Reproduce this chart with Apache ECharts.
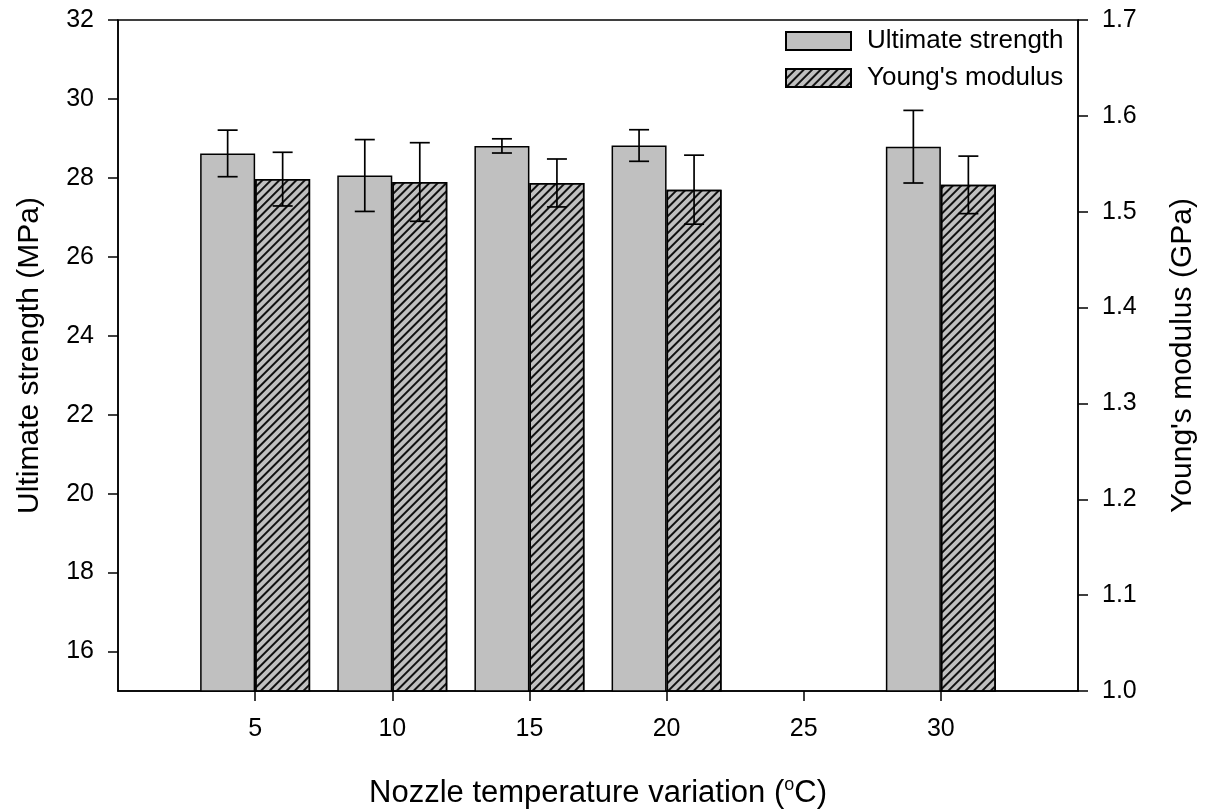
<!DOCTYPE html>
<html>
<head>
<meta charset="utf-8">
<title>Nozzle temperature variation</title>
<script src="https://cdn.jsdelivr.net/npm/echarts@6/dist/echarts.min.js"></script>
<style>
  html, body { margin: 0; padding: 0; background: #fff; }
  #chart { width: 1205px; height: 809px; }
</style>
</head>
<body>
<div id="chart"></div>
<script>
  /* ---------- data ---------- */
  const temps = [5, 10, 15, 20, 30];
  const strength = [28.62, 28.06, 28.81, 28.82, 28.79];      // MPa
  const strengthErr = [0.59, 0.91, 0.18, 0.40, 0.92];
  const modulus = [1.534, 1.531, 1.530, 1.523, 1.528];       // GPa
  const modulusErr = [0.028, 0.041, 0.025, 0.036, 0.030];
  const xTicks = [5, 10, 15, 20, 25, 30];
  const leftTicks = [16, 18, 20, 22, 24, 26, 28, 30, 32];

  const FONT = 'Liberation Sans, Arial, sans-serif';
  const BAR_W = 55;

  const chart = echarts.init(document.getElementById('chart'), null, { renderer: 'canvas' });

  // error bars drawn at the centre of each bar (shifted by half a bar width)
  function errorBars(shift) {
    return function (params, api) {
      const x = api.value(0);
      const lo = api.coord([x, api.value(1)]);
      const hi = api.coord([x, api.value(2)]);
      const cx = lo[0] + shift;
      const cap = 10;
      const style = { stroke: '#000', lineWidth: 1.7 };
      return {
        type: 'group',
        children: [
          { type: 'line', shape: { x1: cx, y1: lo[1], x2: cx, y2: hi[1] }, style: style },
          { type: 'line', shape: { x1: cx - cap, y1: lo[1], x2: cx + cap, y2: lo[1] }, style: style },
          { type: 'line', shape: { x1: cx - cap, y1: hi[1], x2: cx + cap, y2: hi[1] }, style: style }
        ]
      };
    };
  }

  const axisText = { color: '#000', fontFamily: FONT, fontSize: 25 };
  const axisLine = { show: true, lineStyle: { color: '#000', width: 1.5 } };
  const tickLine = { color: '#000', width: 1.5 };

  chart.setOption({
    backgroundColor: '#fff',
    animation: false,
    grid: {
      left: 118, right: 127, top: 20, bottom: 118,
      outerBoundsMode: 'none',
      containLabel: false,
      show: true, borderColor: '#000', borderWidth: 1.5, backgroundColor: 'transparent'
    },
    legend: {
      data: ['Ultimate strength', "Young's modulus"],
      orient: 'vertical',
      left: 785, top: 28,
      padding: 0,
      itemWidth: 65, itemHeight: 18, itemGap: 11,
      icon: 'rect',
      textStyle: { color: '#000', fontFamily: FONT, fontSize: 26, padding: [0, 0, 0, 11] }
    },
    xAxis: {
      type: 'value',
      min: 0, max: 35, interval: 5,
      axisLine: axisLine,
      splitLine: { show: false },
      axisTick: { show: true, inside: false, length: 10, customValues: xTicks, lineStyle: tickLine },
      axisLabel: Object.assign({ margin: 26, customValues: xTicks }, axisText),
      name: 'Nozzle temperature variation ({sup|o}C)',
      nameLocation: 'middle',
      nameGap: 85,
      nameTextStyle: {
        color: '#000', fontFamily: FONT, fontSize: 31,
        rich: { sup: { fontSize: 18, verticalAlign: 'top', padding: [0, 0, 16, 0], color: '#000', fontFamily: FONT } }
      }
    },
    yAxis: [
      {
        type: 'value',
        min: 15, max: 32,
        position: 'left',
        axisLine: axisLine,
        splitLine: { show: false },
        axisTick: { show: true, inside: false, length: 10, customValues: leftTicks, lineStyle: tickLine },
        axisLabel: Object.assign({ margin: 24, customValues: leftTicks }, axisText),
        name: 'Ultimate strength (MPa)',
        nameLocation: 'middle',
        nameGap: 73,
        nameTextStyle: { color: '#000', fontFamily: FONT, fontSize: 30 }
      },
      {
        type: 'value',
        min: 1.0, max: 1.7, interval: 0.1,
        position: 'right',
        axisLine: axisLine,
        splitLine: { show: false },
        axisTick: { show: true, inside: false, length: 10, lineStyle: tickLine },
        axisLabel: Object.assign({ margin: 24, formatter: function (v) { return v.toFixed(1); } }, axisText),
        name: "Young's modulus (GPa)",
        nameLocation: 'middle',
        nameGap: 90,
        nameRotate: 90,
        nameTextStyle: { color: '#000', fontFamily: FONT, fontSize: 30 }
      }
    ],
    series: [
      {
        name: 'Ultimate strength',
        type: 'bar',
        yAxisIndex: 0,
        barWidth: BAR_W,
        barGap: '0%',
        clip: true,
        itemStyle: { color: '#c0c0c0', borderColor: '#000', borderWidth: 1.5 },
        data: temps.map(function (t, i) { return [t, strength[i]]; })
      },
      {
        name: "Young's modulus",
        type: 'bar',
        yAxisIndex: 1,
        barWidth: BAR_W,
        barGap: '0%',
        clip: true,
        itemStyle: {
          color: '#c0c0c0', borderColor: '#000', borderWidth: 1.5,
          decal: {
            symbol: 'rect',
            color: '#111',
            dashArrayX: [1, 0],
            dashArrayY: [1.4, 3.6],
            rotation: -Math.PI / 4
          }
        },
        data: temps.map(function (t, i) { return [t, modulus[i]]; })
      },
      {
        name: 'strength-err',
        type: 'custom',
        yAxisIndex: 0,
        z: 5,
        renderItem: errorBars(-BAR_W / 2),
        data: temps.map(function (t, i) { return [t, strength[i] - strengthErr[i], strength[i] + strengthErr[i]]; })
      },
      {
        name: 'modulus-err',
        type: 'custom',
        yAxisIndex: 1,
        z: 5,
        renderItem: errorBars(BAR_W / 2),
        data: temps.map(function (t, i) { return [t, modulus[i] - modulusErr[i], modulus[i] + modulusErr[i]]; })
      }
    ]
  });
</script>
</body>
</html>
